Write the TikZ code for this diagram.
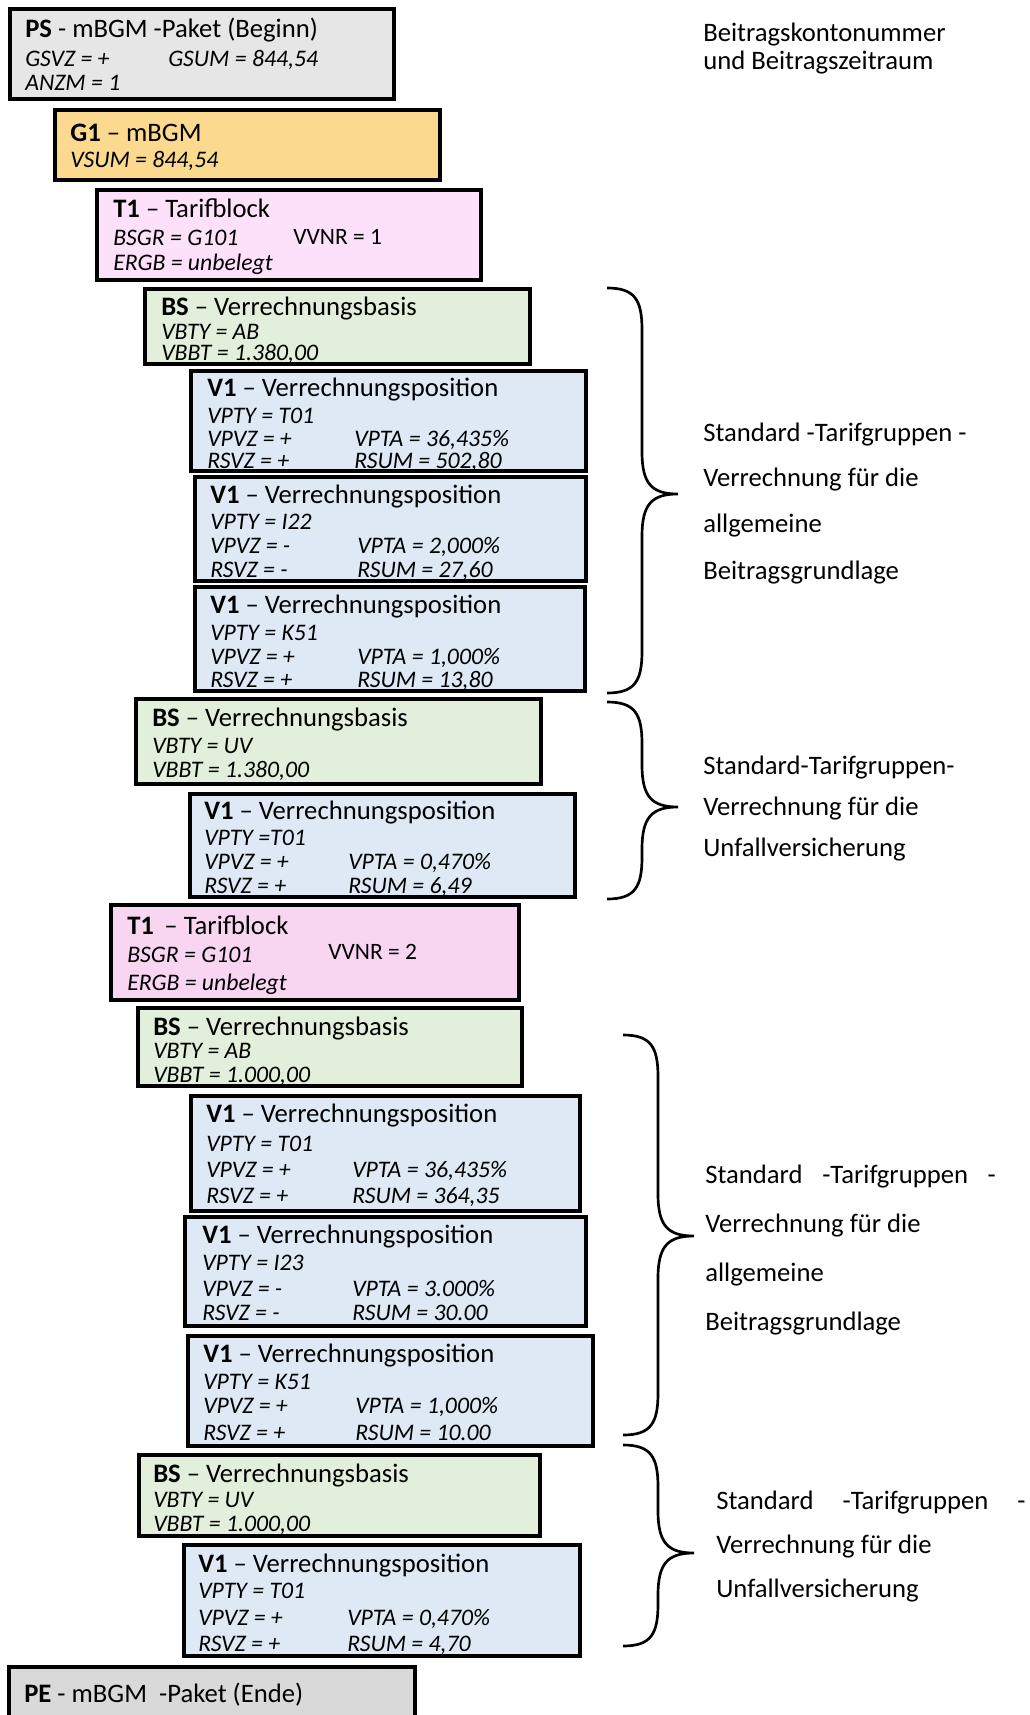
\documentclass[tikz,border=0pt]{standalone}
\usepackage{fontspec}
\setmainfont{Carlito}
\usepackage{tikz}
\usetikzlibrary{fit}

\definecolor{psgray}{HTML}{E6E6E6}
\definecolor{pegray}{HTML}{D9D9D9}
\definecolor{gold}{HTML}{FBD98E}
\definecolor{tpinka}{HTML}{FDE1FA}
\definecolor{tpinkb}{HTML}{F8D5F1}
\definecolor{bsgreen}{HTML}{E2EFDA}
\definecolor{vblue}{HTML}{DEE9F5}

\begin{document}
\begin{tikzpicture}[x=0.75pt,y=-0.75pt,
    blk/.style={draw=black,line width=3pt,inner sep=0pt},
    ttl/.style={anchor=base west,inner sep=0pt,font=\fontsize{20}{24}\selectfont},
    val/.style={anchor=base west,inner sep=0pt,font=\fontsize{17.8}{21}\selectfont\itshape},
    valup/.style={anchor=base west,inner sep=0pt,font=\fontsize{17.6}{21}\selectfont},
    note/.style={anchor=base west,inner sep=0pt,font=\fontsize{20}{24}\selectfont},
    brc/.style={line width=2pt}]
        \useasboundingbox (0,0) rectangle (1030,1715);
        \clip (0,0) rectangle (1030,1715);
        % Paket Beginn
        \node[blk,fill=psgray,fit={(10,9) (394,99)}] (ps) {};
        \node[ttl] (ps-t) at (25,38) {\textbf{PS} - mBGM -Paket (Beginn)};
        \node[val] (ps-1) at (25,67) {GSVZ = +};
        \node[val] (ps-2) at (168,67) {GSUM = 844,54};
        \node[val] (ps-3) at (25,91) {ANZM = 1};
        % mBGM
        \node[blk,fill=gold,fit={(55,110) (440,180)}] (g1) {};
        \node[ttl] (g1-t) at (70,142) {\textbf{G1} -- mBGM};
        \node[val] (g1-1) at (70,168) {VSUM = 844,54};
        % Tarifblock 1
        \node[blk,fill=tpinka,fit={(97,190) (481,280)}] (t1) {};
        \node[ttl] (t1-t) at (113,218) {\textbf{T1} -- Tarifblock};
        \node[val] (t1-1) at (113,246) {BSGR = G101};
        \node[valup] (t1-2) at (293,245) {VVNR = 1};
        \node[val] (t1-3) at (113,271) {ERGB = unbelegt};
        % Basis AB
        \node[blk,fill=bsgreen,fit={(145,289) (530,364)}] (bs1) {};
        \node[ttl] (bs1-t) at (161,316) {\textbf{BS} -- Verrechnungsbasis};
        \node[val] (bs1-1) at (161,340) {VBTY = AB};
        \node[val] (bs1-2) at (161,361) {VBBT = 1.380,00};
        % Positionen
        \node[blk,fill=vblue,fit={(191,371) (586,471)}] (v1a) {};
        \node[ttl] (v1a-t) at (207,397) {\textbf{V1} -- Verrechnungsposition};
        \node[val] (v1a-1) at (207,423) {VPTY = T01};
        \node[val] (v1a-2) at (207,446) {VPVZ = +};
        \node[val] (v1a-3) at (354,446) {VPTA = 36,435\%};
        \node[val] (v1a-4) at (207,468) {RSVZ = +};
        \node[val] (v1a-5) at (354,468) {RSUM = 502,80};

        \node[blk,fill=vblue,fit={(195,477) (586,581)}] (v1b) {};
        \node[ttl] (v1b-t) at (210,503) {\textbf{V1} -- Verrechnungsposition};
        \node[val] (v1b-1) at (210,529) {VPTY = I22};
        \node[val] (v1b-2) at (210,553) {VPVZ = -};
        \node[val] (v1b-3) at (357,553) {VPTA = 2,000\%};
        \node[val] (v1b-4) at (210,577) {RSVZ = -};
        \node[val] (v1b-5) at (357,577) {RSUM = 27,60};

        \node[blk,fill=vblue,fit={(195,587) (585,691)}] (v1c) {};
        \node[ttl] (v1c-t) at (210,613) {\textbf{V1} -- Verrechnungsposition};
        \node[val] (v1c-1) at (210,640) {VPTY = K51};
        \node[val] (v1c-2) at (210,664) {VPVZ = +};
        \node[val] (v1c-3) at (357,664) {VPTA = 1,000\%};
        \node[val] (v1c-4) at (210,687) {RSVZ = +};
        \node[val] (v1c-5) at (357,687) {RSUM = 13,80};
        % Basis UV
        \node[blk,fill=bsgreen,fit={(136,699) (541,784)}] (bs2) {};
        \node[ttl] (bs2-t) at (152,726) {\textbf{BS} -- Verrechnungsbasis};
        \node[val] (bs2-1) at (152,753) {VBTY = UV};
        \node[val] (bs2-2) at (152,777) {VBBT = 1.380,00};

        \node[blk,fill=vblue,fit={(190,794) (575,897)}] (v1d) {};
        \node[ttl] (v1d-t) at (204,819) {\textbf{V1} -- Verrechnungsposition};
        \node[val] (v1d-1) at (204,845) {VPTY =T01};
        \node[val] (v1d-2) at (204,869) {VPVZ = +};
        \node[val] (v1d-3) at (348,869) {VPTA = 0,470\%};
        \node[val] (v1d-4) at (204,893) {RSVZ = +};
        \node[val] (v1d-5) at (348,893) {RSUM = 6,49};
        % Tarifblock 2
        \node[blk,fill=tpinkb,fit={(111,905) (519,1000)}] (t2) {};
        \node[ttl] (t2-t) at (127,934) {\textbf{T1}\, -- Tarifblock};
        \node[val] (t2-1) at (127,962) {BSGR = G101};
        \node[valup] (t2-2) at (328,959) {VVNR = 2};
        \node[val] (t2-3) at (127,990) {ERGB = unbelegt};
        % Basis AB
        \node[blk,fill=bsgreen,fit={(138,1008) (522,1086)}] (bs3) {};
        \node[ttl] (bs3-t) at (153,1035) {\textbf{BS} -- Verrechnungsbasis};
        \node[val] (bs3-1) at (153,1058) {VBTY = AB};
        \node[val] (bs3-2) at (153,1082) {VBBT = 1.000,00};
        % Positionen
        \node[blk,fill=vblue,fit={(191,1096) (580,1211)}] (v1e) {};
        \node[ttl] (v1e-t) at (206,1122) {\textbf{V1} -- Verrechnungsposition};
        \node[val] (v1e-1) at (206,1151) {VPTY = T01};
        \node[val] (v1e-2) at (206,1177) {VPVZ = +};
        \node[val] (v1e-3) at (352,1177) {VPTA = 36,435\%};
        \node[val] (v1e-4) at (206,1203) {RSVZ = +};
        \node[val] (v1e-5) at (352,1203) {RSUM = 364,35};

        \node[blk,fill=vblue,fit={(185,1217) (586,1326)}] (v1f) {};
        \node[ttl] (v1f-t) at (202,1243) {\textbf{V1} -- Verrechnungsposition};
        \node[val] (v1f-1) at (202,1270) {VPTY = I23};
        \node[val] (v1f-2) at (202,1296) {VPVZ = -};
        \node[val] (v1f-3) at (352,1296) {VPTA = 3.000\%};
        \node[val] (v1f-4) at (202,1320) {RSVZ = -};
        \node[val] (v1f-5) at (352,1320) {RSUM = 30.00};

        \node[blk,fill=vblue,fit={(188,1336) (593,1446)}] (v1g) {};
        \node[ttl] (v1g-t) at (203,1362) {\textbf{V1} -- Verrechnungsposition};
        \node[val] (v1g-1) at (203,1389) {VPTY = K51};
        \node[val] (v1g-2) at (203,1413) {VPVZ = +};
        \node[val] (v1g-3) at (355,1413) {VPTA = 1,000\%};
        \node[val] (v1g-4) at (203,1440) {RSVZ = +};
        \node[val] (v1g-5) at (355,1440) {RSUM = 10.00};
        % Basis UV
        \node[blk,fill=bsgreen,fit={(139,1455) (540,1536)}] (bs4) {};
        \node[ttl] (bs4-t) at (153,1482) {\textbf{BS} -- Verrechnungsbasis};
        \node[val] (bs4-1) at (153,1507) {VBTY = UV};
        \node[val] (bs4-2) at (153,1531) {VBBT = 1.000,00};

        \node[blk,fill=vblue,fit={(184,1545) (580,1656)}] (v1h) {};
        \node[ttl] (v1h-t) at (198,1572) {\textbf{V1} -- Verrechnungsposition};
        \node[val] (v1h-1) at (198,1598) {VPTY = T01};
        \node[val] (v1h-2) at (198,1625) {VPVZ = +};
        \node[val] (v1h-3) at (347,1625) {VPTA = 0,470\%};
        \node[val] (v1h-4) at (198,1651) {RSVZ = +};
        \node[val] (v1h-5) at (347,1651) {RSUM = 4,70};
        % Paket Ende
        \node[blk,fill=pegray,fit={(9,1667) (415,1740)}] (pe) {};
        \node[ttl] (pe-t) at (24,1702) {\textbf{PE} - mBGM\ \ -Paket (Ende)};
        % Braces
        \foreach \xa/\ya/\yb/\ym in {607/288/693/494, 607/702/899/807, 623/1035/1435/1236, 623/1445/1646/1553}
        \draw[brc] (\xa,\ya) .. controls ({\xa+28},\ya) and ({\xa+35},{\ya+12}) .. ({\xa+35},{\ya+42})
        -- ({\xa+35},{\ym-42}) .. controls ({\xa+35},{\ym-10}) and ({\xa+45},\ym) .. ({\xa+71},\ym)
        .. controls ({\xa+45},\ym) and ({\xa+35},{\ym+10}) .. ({\xa+35},{\ym+42})
        -- ({\xa+35},{\yb-42}) .. controls ({\xa+35},{\yb-12}) and ({\xa+28},\yb) .. (\xa,\yb);
        % Notes
        \node[note] (n0a) at (703,42) {Beitragskontonummer};
        \node[note] (n0b) at (703,70) {und Beitragszeitraum};
        \node[note] (n1a) at (703,441) {Standard -Tarifgruppen -};
        \node[note] (n1b) at (703,486) {Verrechnung für die};
        \node[note] (n1c) at (703,532) {allgemeine};
        \node[note] (n1d) at (703,579) {Beitragsgrundlage};
        \node[note] (n2a) at (703,774) {Standard-Tarifgruppen-};
        \node[note] (n2b) at (703,815) {Verrechnung für die};
        \node[note] (n2c) at (703,856) {Unfallversicherung};
        \node[note] (n3a) at (705,1183) {\hbox to 218pt{Standard\hfil-Tarifgruppen\hfil-}};
        \node[note] (n3b) at (705,1232) {Verrechnung für die};
        \node[note] (n3c) at (705,1281) {allgemeine};
        \node[note] (n3d) at (705,1330) {Beitragsgrundlage};
        \node[note] (n4a) at (716,1509) {\hbox to 232pt{Standard\hfil-Tarifgruppen\hfil-}};
        \node[note] (n4b) at (716,1553) {Verrechnung für die};
        \node[note] (n4c) at (716,1597) {Unfallversicherung};
      \end{tikzpicture}
\end{document}
